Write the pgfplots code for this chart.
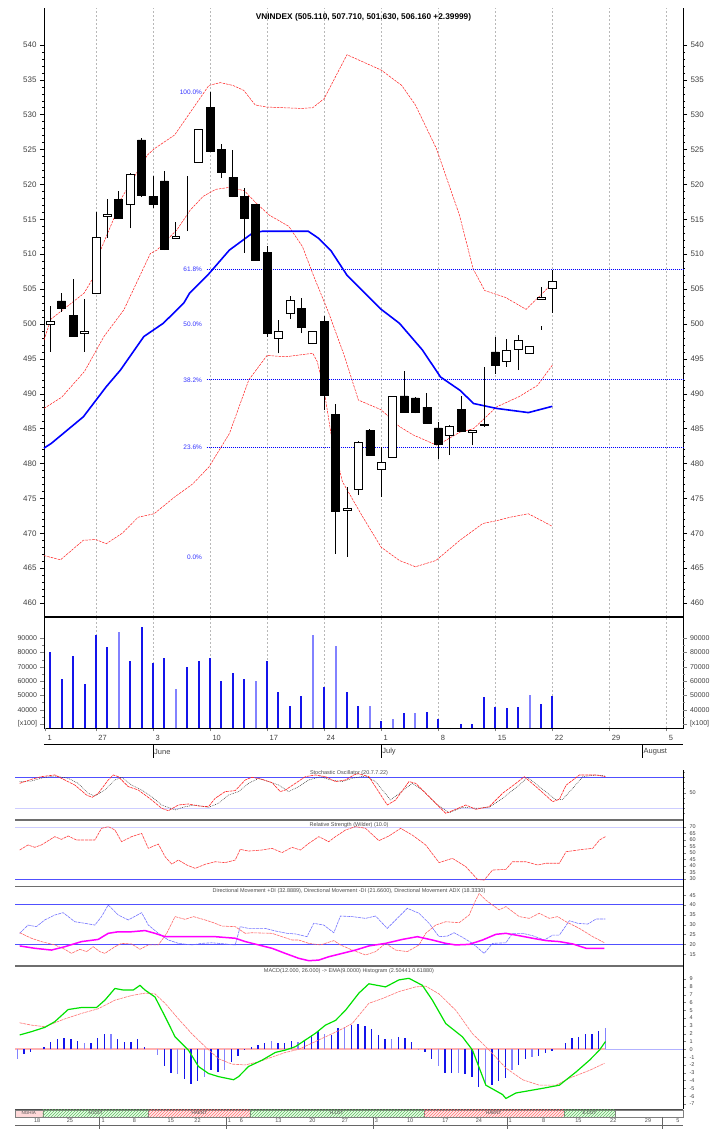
\documentclass[border=0pt]{standalone}
\usepackage{fontspec}
\setmainfont{Liberation Sans}
\usepackage{pgfplots}
\usepackage{pgfplotstable}
\pgfplotsset{compat=1.18}
\usetikzlibrary{patterns}

\definecolor{vblue}{RGB}{20,20,235}
\definecolor{vlight}{RGB}{130,130,255}
\definecolor{refblue}{RGB}{80,80,255}
\definecolor{reflight}{RGB}{205,205,255}
\definecolor{bandred}{RGB}{255,30,30}
\definecolor{mgreen}{RGB}{0,225,0}
\definecolor{adxmag}{RGB}{255,0,255}
\definecolor{sepgray}{RGB}{110,110,110}

\pgfplotstableread{
x O H L C
-4 500.0 502.6 496.0 500.4
-3 503.3 504.5 501.7 502.3
-2 501.2 506.5 498.2 498.3
-1 498.7 503.6 496.0 498.9
0 504.4 516.1 504.3 512.4
1 515.4 517.9 512.3 515.7
2 517.9 519.1 515.1 515.2
3 517.1 521.6 513.7 521.4
4 526.4 526.6 518.2 518.4
5 518.3 521.2 516.6 517.1
6 520.5 521.9 510.6 510.7
7 512.3 514.6 512.2 512.6
8 513.5 521.2 513.3 513.5
9 523.2 528.0 523.1 527.9
10 531.0 533.2 524.6 524.7
11 525.0 525.8 520.9 521.8
12 521.0 525.0 518.2 518.3
13 518.3 519.5 510.2 515.1
14 517.1 517.2 509.1 509.2
15 510.3 511.2 498.2 498.7
16 498.0 500.6 495.8 499.0
17 501.6 504.0 500.7 503.4
18 502.2 503.7 498.7 499.6
19 497.2 499.0 497.1 498.9
20 500.4 501.1 487.7 489.8
21 487.0 488.6 467.1 473.2
22 473.3 476.6 466.6 473.6
23 476.3 483.2 475.5 483.1
24 484.8 484.9 481.1 481.2
25 479.1 482.3 475.2 480.2
26 480.9 489.7 480.8 489.6
27 489.7 493.2 487.3 487.4
28 489.4 489.5 487.2 487.3
29 488.1 490.1 485.7 485.8
30 485.1 486.0 480.7 482.8
31 484.1 485.5 481.2 485.4
32 487.8 489.7 484.5 484.6
33 484.5 484.8 482.6 484.7
34 485.5 493.8 485.3 485.6
35 496.0 498.2 492.9 494.1
36 494.7 497.8 493.9 496.2
37 496.4 498.4 493.4 497.6
38 495.8 496.9 495.7 496.8
39 503.6 505.3 503.5 503.8
39 499.6 499.7 499.2 499.6
40 505.11 507.71 501.63 506.16
}\candles

\begin{document}
\begin{tikzpicture}
\pgfplotsset{
 panel/.style={scale only axis, anchor=south west,
   /pgf/number format/assume math mode=true,
   /pgf/number format/1000 sep={},
   scaled y ticks=false,
   tick label style={text=black!75}},
}
% ================= MAIN PRICE PANEL =================
\begin{axis}[panel, at={(44pt,512pt)}, width=639pt, height=609pt,
  xmin=-4.55, xmax=51.45, ymin=458, ymax=545.3,
  separate axis lines,
  every outer x axis line/.append style={draw=none},
  every outer y axis line/.append style={line width=0.7pt},
  xtick={0,5,...,50}, xticklabels={}, xtick style={draw=none},
  xmajorgrids, major x grid style={dash pattern=on 2pt off 2pt, black!28, line width=0.4pt},
  ytick={460,465,...,540}, minor y tick num=4,
  tick align=outside, major tick length=4pt, minor tick length=2pt,
  y tick style={black, line width=0.5pt},
  yticklabel style={font=\fontsize{8}{8}\selectfont},
  clip=false]
% Bollinger bands
\addplot[bandred, line width=0.5pt, dash pattern=on 2.5pt off 1pt] coordinates {
(-4.55,497.7) (-3.94,500.7) (-1.05,504.4) (-0.17,506.8) (0.08,509.3) (1.69,515.6) (2.15,517.8) (4.5,524.2) (5.1,525.1) (6.9,527.1) (8.5,530.9) (9.9,534.2) (10.9,534.6) (12.0,534.2) (12.95,533.5) (13.96,531.4) (14.96,531.1) (18.0,530.9) (19.0,531.0) (20.0,532.3) (22.0,538.6) (25.0,536.4) (26.8,534.2) (28.0,531.4) (29.85,525.1) (31.86,515.6) (33.06,507.9) (34.07,504.8) (35.9,503.8) (37.7,502.1) (40,505.8)};
\addplot[bandred, line width=0.5pt, dash pattern=on 2.5pt off 1pt] coordinates {
(-4.55,487.9) (-3.0,489.5) (-1.0,493.2) (0.7,498.2) (2.44,502.0) (4.77,510.1) (5.35,510.6) (7.1,513.5) (8.25,516.3) (9.4,518.3) (10.5,519.3) (11.75,519.6) (13,519.1) (14,517.4) (15.2,515.6) (16.9,514.0) (18.1,511.1) (19.1,506.8) (20.4,501.6) (21.8,495.3) (23,489.1) (25,487.7) (26.6,485.3) (27.8,484.1) (29.9,482.6) (31.9,484.5) (33.1,485.0) (35.1,488.1) (37.1,489.6) (38.7,491.2) (40,494.1)};
\addplot[bandred, line width=0.5pt, dash pattern=on 2.5pt off 1pt] coordinates {
(-4.55,466.8) (-3.1,466.2) (-1.1,469.0) (0,469.1) (0.9,468.5) (2.3,470.0) (3.7,472.3) (5.1,472.8) (6.9,475.2) (8.5,477.1) (9.9,479.5) (11.7,484.3) (13.4,492.0) (15,495.5) (16.6,495.3) (19,495.8) (19.4,494.6) (20,490.5) (20.6,484.3) (21.6,477.4) (23.4,472.3) (25,468.0) (26.6,466.1) (28,465.2) (29.8,466.1) (31.9,469.0) (33.9,471.4) (35.1,471.8) (36.3,472.3) (37.9,472.8) (40,471.0)};
% moving average
\addplot[blue, line width=1.6pt] coordinates {
(-4.55,482.2) (-3.9,482.9) (-1.1,486.7) (0.9,491.0) (2.15,493.4) (4.2,498.2) (5.9,500.1) (7.7,503.0) (8.2,504.4) (9.9,507.2) (11.7,510.6) (13.7,513.0) (14.6,513.3) (18.6,513.3) (19.5,512.3) (20.6,510.5) (22.0,507.0) (25,502.1) (26.6,500.1) (28.6,496.3) (30.2,492.4) (31.9,490.5) (33.1,488.6) (35.1,487.9) (37.9,487.3) (40,488.2)};
% Fibonacci lines
\addplot[blue, line width=0.8pt, dash pattern=on 1pt off 1pt] coordinates {(9.7,507.8) (51.45,507.8)};
\addplot[blue, line width=0.8pt, dash pattern=on 1pt off 1pt] coordinates {(9.7,492.0) (51.45,492.0)};
\addplot[blue, line width=0.8pt, dash pattern=on 1pt off 1pt] coordinates {(9.7,482.3) (51.45,482.3)};
% wicks
\addplot[mark=none, draw=none, error bars/.cd, y dir=plus, y explicit, error mark=none,
  error bar style={draw=black, solid, line width=0.7pt}]
  table[x=x, y=L, y error plus expr=\thisrow{H}-\thisrow{L}] {\candles};
\begin{scope}[font=\fontsize{6.5}{7}\selectfont, text=blue!80]
\node[anchor=east] at (axis cs:9.6,533.2) {100.0\%};
\node[anchor=east] at (axis cs:9.6,507.8) {61.8\%};
\node[anchor=east] at (axis cs:9.6,499.9) {50.0\%};
\node[anchor=east] at (axis cs:9.6,492.0) {38.2\%};
\node[anchor=east] at (axis cs:9.6,482.3) {23.6\%};
\node[anchor=east] at (axis cs:9.6,466.6) {0.0\%};
\end{scope}
\node[anchor=north, font=\bfseries\fontsize{8.3}{10}\selectfont] at (rel axis cs:0.5,0.997) {VNINDEX (505.110, 507.710, 501.630, 506.160 +2.39999)};
\draw[line width=1.4pt] (rel axis cs:0,0) -- (rel axis cs:1,0);
\end{axis}
% candle bodies + right labels
\begin{axis}[panel, at={(44pt,512pt)}, width=639pt, height=609pt,
  xmin=-4.55, xmax=51.45, ymin=458, ymax=545.3,
  axis line style={draw=none}, xtick=\empty,
  ytick={460,465,...,540}, yticklabel pos=right, major tick length=0pt, minor tick length=0pt,
  yticklabel style={font=\fontsize{8}{8}\selectfont, xshift=4pt},
  ybar stacked, bar width=0.7, clip=false]
\addplot[draw=none, fill=none] table[x=x, y expr={min(\thisrow{O},\thisrow{C})}] {\candles};
\addplot[fill=black, draw=black, line width=0.5pt] table[x=x, y expr={max(\thisrow{O}-\thisrow{C},0)}] {\candles};
\addplot[fill=white, draw=black, line width=0.6pt] table[x=x, y expr={max(\thisrow{C}-\thisrow{O},0)}] {\candles};
\end{axis}
% ================= VOLUME =================
\begin{axis}[panel, at={(44pt,401pt)}, width=639pt, height=111pt,
  xmin=-4.55, xmax=51.45, ymin=27200, ymax=104900,
  axis line style={line width=0.7pt},
  xtick={0,5,...,50}, xticklabels={27,3,10,17,24,1,8,15,22,29,5},
  extra x ticks={-4.45}, extra x tick labels={1}, extra x tick style={grid=none},
  xtick pos=bottom, minor x tick num=4,
  xticklabel style={anchor=north west, xshift=-1pt, font=\fontsize{7.5}{8}\selectfont},
  xmajorgrids, major x grid style={dash pattern=on 2pt off 2pt, black!28, line width=0.4pt},
  ytick={30000,40000,...,90000}, yticklabels={{[x100]},40000,50000,60000,70000,80000,90000},
  ytick pos=left, minor y tick num=1,
  tick align=outside, major tick length=3.5pt, minor tick length=1.5pt,
  yticklabel style={font=\fontsize{7}{7}\selectfont},
  clip mode=individual]
\addplot[ycomb, vblue, line width=2pt] coordinates {
(-4,80200) (-3,61500) (-2,77600) (-1,58000) (0,92300) (1,84200) (3,74300) (4,97700) (5,72900) (6,76000) (8,69700) (9,74300) (10,76000) (11,60100) (12,65900) (13,61500) (15,74300) (16,52600) (17,42800) (18,49600) (20,55700) (22,52600) (23,42800) (25,32100) (27,37400) (29,38600) (30,33200) (32,29700) (33,29700) (34,49100) (35,42100) (36,41400) (37,42100) (39,43700) (40,49600)};
\draw[line width=1pt] (axis cs:-4.55,15790) -- (axis cs:51.45,15790);
\draw[line width=0.6pt] (axis cs:5,15300) -- (axis cs:5,6200);
\draw[line width=0.6pt] (axis cs:25,15300) -- (axis cs:25,6200);
\draw[line width=0.6pt] (axis cs:47.9,15300) -- (axis cs:47.9,6200);
\node[anchor=west, font=\fontsize{7.5}{8}\selectfont, text=black!75, inner xsep=1pt] at (axis cs:5,10400) {June};
\node[anchor=west, font=\fontsize{7.5}{8}\selectfont, text=black!75, inner xsep=1pt] at (axis cs:25,10400) {July};
\node[anchor=west, font=\fontsize{7.5}{8}\selectfont, text=black!75, inner xsep=1pt] at (axis cs:47.9,10400) {August};
\end{axis}
\begin{axis}[panel, at={(44pt,401pt)}, width=639pt, height=111pt,
  xmin=-4.55, xmax=51.45, ymin=27200, ymax=104900,
  axis line style={draw=none}, xtick=\empty,
  ytick={30000,40000,...,90000}, yticklabels={{[x100]},40000,50000,60000,70000,80000,90000},
  yticklabel pos=right, minor y tick num=1,
  tick align=outside, major tick length=3.5pt, minor tick length=1.5pt,
  yticklabel style={font=\fontsize{7}{7}\selectfont},
  clip mode=individual]
\addplot[ycomb, vlight, line width=2pt] coordinates {
(2,94200) (7,54500) (14,60100) (19,92300) (21,84600) (24,42800) (26,33200) (28,37400) (38,50300)};
\end{axis}
% ================= STOCHASTIC =================
\begin{axis}[panel, at={(15pt,309pt)}, width=668pt, height=50pt,
  xmin=-48.35, xmax=51.6, ymin=-2.6, ymax=94.1,
  axis x line=none, axis y line=right, axis line style={-, line width=0.6pt},
  ytick={50}, minor ytick={10,20,30,40,60,70,80,90},
  tick align=outside, major tick length=3pt, minor tick length=1.5pt,
  yticklabel style={font=\fontsize{5.5}{6}\selectfont},
  clip mode=individual]
\addplot[refblue, line width=1pt] coordinates {(-48.35,80) (51.6,80)};
\addplot[reflight, line width=0.8pt] coordinates {(-48.35,20) (51.6,20)};
\addplot[black!80, line width=0.5pt, dash pattern=on 0.8pt off 1pt] coordinates {
(-47.65,71.5) (-45.9,72.8) (-43.9,80) (-42.4,82.5) (-40.4,78) (-38.9,68.3) (-37.4,49) (-36.4,43.8) (-34.9,55.4) (-33.4,74.8) (-32.4,80) (-30.9,65) (-29.4,55.4) (-27.9,42.5) (-26.4,26.4) (-24.4,16.8) (-22.9,23.2) (-21.4,26.4) (-19.4,21.9) (-17.9,29.7) (-16.4,45.7) (-14.9,52.3) (-13.4,68.3) (-11.9,78) (-10.4,71.7) (-8.9,65) (-7.4,52.3) (-5.9,61.9) (-4.4,74.8) (-2.65,81.2) (-1.15,74.8) (0.6,71.7) (2.1,78) (4.1,82.5) (5.6,71.7) (7.85,36.1) (11.1,68.3) (12.6,55.4) (14.6,29.7) (16.6,11.5) (18.6,21.9) (20.6,20) (22.6,21.9) (24.6,39.4) (27.1,65) (28.35,80) (30.1,61.9) (32.6,36.1) (33.6,37.4) (35.1,58.6) (36.6,81.2) (38.6,84.5) (40,82.5)};
\addplot[red!85, line width=0.6pt, dash pattern=on 3pt off 0.8pt] coordinates {
(-47.65,68.3) (-45.9,76) (-44.4,81.2) (-42.4,84.5) (-40.9,74.8) (-39.4,65) (-37.65,45.7) (-36.8,41.2) (-35.9,49) (-34.4,74.8) (-33.65,84.5) (-32.9,81.2) (-31.4,61.9) (-29.9,55.4) (-27.9,36.1) (-26.4,20) (-25.4,15.4) (-23.9,26.4) (-22.4,28.4) (-20.9,24.5) (-19.4,23.2) (-18.4,39.4) (-16.9,52.3) (-15.4,54.2) (-13.9,74.8) (-12.9,80) (-11.4,76) (-9.9,69.7) (-8.65,52.3) (-7.9,55.4) (-6.4,68.3) (-4.9,81.2) (-3.4,84.5) (-1.9,81.2) (-0.4,71.7) (1.1,74.8) (2.35,84.5) (3.0,87) (4.6,81.2) (7.35,26.4) (8.6,36.1) (10.6,71.7) (11.6,68.3) (14.1,36.1) (16.1,10.2) (17.6,18.1) (19.1,26.4) (20.6,18.1) (22.6,23.2) (24.6,49) (26.6,68.3) (27.85,81.2) (29.6,61.9) (32.1,32.9) (33.1,37.4) (34.1,64.6) (36.1,84.5) (38.6,84.5) (40,81.2)};
\node[font=\fontsize{5.5}{6}\selectfont, text=black!70] at (rel axis cs:0.5,0.93) {Stochastic Oscillator (20.7.7.22)};
\draw[sepgray, line width=1.6pt] (rel axis cs:0,0) -- (rel axis cs:1,0);
\end{axis}
% ================= RSI =================
\begin{axis}[panel, at={(15pt,242.3pt)}, width=668pt, height=66.7pt,
  xmin=-48.35, xmax=51.6, ymin=24.1, ymax=75.4,
  axis x line=none, axis y line=right, axis line style={-, line width=0.6pt},
  ytick={30,35,...,70},
  tick align=outside, major tick length=3pt,
  yticklabel style={font=\fontsize{5.5}{6}\selectfont},
  clip mode=individual]
\addplot[reflight, line width=0.8pt] coordinates {(-48.35,70) (51.6,70)};
\addplot[refblue, line width=1pt] coordinates {(-48.35,30) (51.6,30)};
\addplot[red!75, line width=0.6pt, dash pattern=on 3pt off 0.8pt] coordinates {
(-47.65,52.3) (-46.4,56.2) (-45.4,54.4) (-44.4,56.2) (-42.4,62.6) (-41.4,60.5) (-40.4,63.1) (-39.15,60) (-36.4,60) (-35.4,69) (-34.4,70.3) (-33.4,67.7) (-32.4,58.7) (-30.9,62.6) (-29.4,65.1) (-28.4,53.6) (-26.9,56.9) (-25.9,47.2) (-24.9,41.5) (-23.9,44.6) (-22.65,40.8) (-21.4,38.2) (-19.9,41.3) (-18.4,43.3) (-16.9,42.6) (-15.4,44.6) (-14.65,52.8) (-13.4,51.5) (-11.4,52.3) (-9.9,53.6) (-8.4,50.3) (-6.9,54.4) (-5.65,52.3) (-4.4,57.4) (-2.9,62.6) (-1.4,58.7) (-0.4,62.6) (1.1,67.7) (2.6,70.3) (4.1,69) (6.1,59.5) (7.6,63.1) (9.35,69) (11.1,63.8) (13.1,56.2) (15.1,42.6) (17.1,45.9) (19.1,39.5) (20.85,29.7) (21.85,29.2) (23.1,36.9) (25.1,37.4) (26.1,43.3) (28.1,43.3) (29.85,40.8) (31.1,42.1) (33.1,42.1) (34.1,51) (36.6,52.8) (38.1,53.6) (39.1,60) (40,62.6)};
\node[font=\fontsize{5.5}{6}\selectfont, text=black!70] at (rel axis cs:0.5,0.925) {Relative Strength (Wilder) (10.0)};
\draw[sepgray, line width=1.6pt] (rel axis cs:0,0) -- (rel axis cs:1,0);
\end{axis}
% ================= DMI =================
\begin{axis}[panel, at={(15pt,163pt)}, width=668pt, height=79.3pt,
  xmin=-48.35, xmax=51.6, ymin=9.0, ymax=49.3,
  axis x line=none, axis y line=right, axis line style={-, line width=0.6pt},
  ytick={15,20,...,45},
  tick align=outside, major tick length=3pt,
  yticklabel style={font=\fontsize{5.5}{6}\selectfont},
  clip mode=individual]
\addplot[refblue, line width=1pt] coordinates {(-48.35,40) (51.6,40)};
\addplot[refblue, line width=1pt] coordinates {(-48.35,20) (51.6,20)};
\addplot[blue!55, line width=0.6pt, dash pattern=on 3pt off 0.8pt] coordinates {
(-47.65,25.6) (-46.4,29.8) (-45.15,29) (-43.9,32.4) (-42.4,34.9) (-41.15,36.1) (-39.4,31.5) (-37.9,30.7) (-36.4,29.8) (-35.4,34.1) (-34.4,40) (-32.9,34.9) (-31.4,32.4) (-29.4,36.1) (-28.4,29.8) (-26.9,25.6) (-25.4,22.2) (-23.9,20.5) (-21.9,19.7) (-20.4,20.5) (-18.9,20.8) (-16.9,20.2) (-15.4,19.7) (-14.65,29) (-13.4,28.1) (-10.9,28.1) (-9.4,26.8) (-7.65,25.6) (-6.4,25.3) (-4.65,23.9) (-3.65,30.7) (-2.15,29.8) (-0.65,25.9) (0.35,34.4) (2.1,34.1) (4.1,33.2) (5.6,34.4) (7.35,28.1) (9.1,34.1) (10.35,38.3) (12.1,35.8) (13.6,30.7) (15.1,23.9) (16.35,24.2) (17.35,25.9) (18.6,23.6) (20.1,20.5) (21.85,15.4) (23.1,20.5) (25.1,20.8) (26.1,25.6) (27.6,25.6) (29.1,24.4) (30.85,22.2) (32.1,24.7) (33.1,24.7) (34.6,32) (35.85,30.7) (37.35,30.3) (38.6,32.9) (40,32.9)};
\addplot[red!60, line width=0.6pt, dash pattern=on 3pt off 0.8pt] coordinates {
(-47.65,25.9) (-45.9,23.1) (-44.4,21.4) (-42.4,19.7) (-40.9,17.5) (-39.9,15.4) (-38.65,17.5) (-37.65,16.3) (-36.65,18.8) (-35.65,16.3) (-34.9,15.4) (-33.4,18.8) (-32.4,20.5) (-30.9,20.2) (-29.65,17.5) (-28.4,19.7) (-26.9,19.7) (-25.65,25.6) (-24.4,34.1) (-22.9,32.7) (-21.65,34.1) (-19.9,32.4) (-18.65,31) (-17.4,29.3) (-15.4,29) (-13.9,25.6) (-12.9,25.9) (-9.9,25.6) (-8.4,23.9) (-6.9,22.2) (-5.9,22.2) (-4.4,20.5) (-2.65,19.7) (-0.65,21.9) (0.35,19.7) (2.1,17.1) (4.1,14.6) (5.6,16.3) (7.1,20.5) (8.6,17.1) (10.35,16.3) (12.1,19.7) (13.1,25.6) (14.6,29.8) (16.1,31.5) (18.1,31) (19.6,34.9) (20.35,40.8) (21.1,45.9) (22.1,42.5) (24.1,37.5) (25.1,39.2) (27.1,34.1) (28.6,33.2) (30.1,35.8) (31.6,33.2) (32.85,34.1) (34.1,31.5) (36.1,28.1) (38.1,23.9) (39.85,20.8)};
\addplot[adxmag, line width=1.5pt] coordinates {
(-47.65,19.2) (-45.4,18) (-42.9,17.1) (-40.9,18.8) (-38.4,21.4) (-35.9,22.5) (-34.4,25.6) (-32.9,26.4) (-30.9,26.4) (-28.9,27) (-27.4,25.6) (-25.9,23.9) (-23.9,23.9) (-18.4,23.9) (-15.4,23.1) (-13.9,21.4) (-11.9,19.7) (-9.9,18) (-7.9,15.4) (-5.9,12.9) (-4.4,11.7) (-2.9,12) (-1.4,13.7) (0.6,15.4) (2.6,17.1) (4.6,19.2) (7.1,20.5) (9.6,22.5) (11.85,23.9) (14.1,22.2) (16.1,20.5) (17.6,19.7) (19.6,20) (21.6,22.2) (23.6,25.1) (25.1,25.6) (27.1,24.4) (29.1,23.1) (31.1,21.9) (33.1,21.4) (35.1,20.2) (37.1,18) (39.85,18)};
\node[font=\fontsize{5.5}{6}\selectfont, text=black!70] at (rel axis cs:0.5,0.94) {Directional Movement +DI (32.8889), Directional Movement -DI (21.6600), Directional Movement ADX (18.3330)};
\draw[sepgray, line width=1.6pt] (rel axis cs:0,0) -- (rel axis cs:1,0);
\end{axis}
% ================= MACD =================
\begin{axis}[panel, at={(15pt,19.7pt)}, width=668pt, height=143.3pt,
  xmin=-48.35, xmax=51.6, ymin=-7.69, ymax=10.68,
  axis x line=none, axis y line=right, axis line style={-, line width=0.6pt},
  ytick={-7,-6,...,9},
  tick align=outside, major tick length=3pt,
  yticklabel style={font=\fontsize{5.5}{6}\selectfont},
  clip mode=individual]
\addplot[red!30, line width=2pt] coordinates {(-48.35,0) (40,0)};
\addplot[blue!30, line width=1.5pt] coordinates {(40,0) (51.6,0)};
\addplot[ycomb, vblue, line width=1.4pt] coordinates {
(-47,-0.6) (-46,-0.4) (-44,0.34) (-43,1.0) (-42,1.3) (-41,1.4) (-40,1.3) (-39,1.1) (-37,0.8) (-36,1.4) (-35,2.0) (-33,1.3) (-32,1.0) (-31,1.0) (-30,1.3) (-29,0.26) (-26,-2.1) (-25,-3.1) (-23,-3.8) (-22,-4.4) (-21,-4.1) (-19,-2.6) (-18,-2.9) (-16,-1.6) (-15,-0.85) (-14,-0.1) (-13,0.26) (-12,0.56) (-11,0.8) (-9,0.8) (-8,0.8) (-7,1.1) (-5,1.2) (-4,1.8) (-3,2.3) (-1,1.8) (0,2.7) (2,3.1) (3,3.2) (4,3.0) (5,2.6) (6,1.8) (7,1.3) (9,1.6) (10,1.4) (11,1.0) (13,-0.4) (14,-1.2) (16,-3.1) (17,-3.1) (19,-3.2) (20,-3.5) (21,-4.8) (23,-4.6) (24,-4.1) (25,-3.7) (27,-2.0) (28,-1.3) (30,-0.85) (31,-0.5) (32,-0.17) (34,0.85) (35,1.4) (36,1.6) (37,2.0) (38,2.0) (39,2.3)};
\addplot[ycomb, vlight, line width=1.2pt] coordinates {
(-48,-1.3) (-38,0.8) (-34,2.0) (-27,-0.7) (-24,-3.2) (-20,-3.5) (-17,-2.6) (-10,1.1) (-6,0.9) (-2,2.0) (1,2.9) (8,1.3) (12,0.1) (15,-2.2) (18,-3.1) (22,-4.6) (26,-2.6) (29,-1.0) (40,2.7)};
\addplot[red!55, line width=0.6pt, dash pattern=on 3pt off 0.8pt] coordinates {
(-47.65,3.4) (-45.9,3.1) (-43.9,2.9) (-40.9,3.9) (-38.4,4.6) (-35.9,5.2) (-33.4,6.3) (-30.9,6.9) (-28.9,7.2) (-27.4,7.1) (-25.9,5.9) (-23.9,3.9) (-21.9,2.0) (-19.9,0.34) (-17.9,-1.2) (-15.9,-1.9) (-13.9,-2.0) (-11.9,-1.6) (-9.9,-1.0) (-7.9,-0.4) (-5.9,0.0) (-3.9,0.8) (-1.9,1.6) (0.1,2.4) (2.1,3.3) (4.6,5.9) (6.6,6.5) (9.1,7.4) (11.6,8.0) (13.1,8.1) (15.1,7.1) (17.6,5.0) (20.1,2.0) (22.6,-0.1) (25.1,-2.4) (27.6,-3.9) (30.1,-4.6) (32.6,-4.6) (34.6,-3.7) (37.6,-2.7) (39.85,-1.8)};
\addplot[mgreen, line width=1.2pt] coordinates {
(-47.65,1.84) (-45.9,2.26) (-43.9,2.81) (-42.4,3.54) (-40.4,5.1) (-38.4,5.36) (-36.15,5.36) (-34.9,6.3) (-33.4,7.8) (-32.15,7.6) (-30.65,7.6) (-29.65,8.2) (-28.9,7.6) (-27.4,6.7) (-25.9,4.2) (-24.4,1.6) (-22.4,-0.1) (-20.9,-2.2) (-19.4,-3.1) (-17.9,-3.5) (-15.65,-3.9) (-14.9,-3.5) (-13.4,-2.2) (-11.4,-1.4) (-9.4,-0.4) (-7.9,-0.1) (-6.4,0.34) (-4.9,1.2) (-3.4,2.05) (-1.9,3.1) (-0.4,3.7) (1.1,5.0) (3.1,7.2) (4.6,8.4) (7.1,8.0) (9.1,8.9) (10.6,9.1) (12.6,8.2) (14.1,6.3) (16.1,3.3) (18.6,1.6) (20.1,-0.1) (22.1,-4.6) (24.6,-5.8) (25.1,-6.3) (26.6,-5.6) (28.6,-5.3) (30.6,-5.0) (33.1,-4.6) (35.6,-2.9) (37.6,-1.4) (39.1,-0.1) (40,1.0)};
\node[font=\fontsize{5.5}{6}\selectfont, text=black!70] at (rel axis cs:0.5,0.965) {MACD(12.000, 26.000) -> EMA(9.0000) Histogram (2.50441 0.61880)};
\draw[black!70, line width=0.6pt] (rel axis cs:0,0) -- (rel axis cs:1,0);
\end{axis}
% ================= BOTTOM STRIP =================
\begin{axis}[panel, at={(15pt,0pt)}, width=668pt, height=19.7pt,
  xmin=-48.35, xmax=51.6, ymin=0, ymax=1, hide axis, clip=false]
\draw[draw=gray, fill=red!15] (axis cs:-48.35,0.61) rectangle (axis cs:-44.2,0.965);
\draw[draw=gray, fill=green!10, postaction={pattern=north east lines, pattern color=green!55!black!60}] (axis cs:-44.2,0.61) rectangle (axis cs:-28.35,0.965);
\draw[draw=gray, fill=red!8, postaction={pattern=north east lines, pattern color=red!55}] (axis cs:-28.35,0.61) rectangle (axis cs:-13.2,0.965);
\draw[draw=gray, fill=green!10, postaction={pattern=north east lines, pattern color=green!55!black!60}] (axis cs:-13.2,0.61) rectangle (axis cs:12.85,0.965);
\draw[draw=gray, fill=red!8, postaction={pattern=north east lines, pattern color=red!55}] (axis cs:12.85,0.61) rectangle (axis cs:33.8,0.965);
\draw[draw=gray, fill=green!10, postaction={pattern=north east lines, pattern color=green!55!black!60}] (axis cs:33.8,0.61) rectangle (axis cs:41.4,0.965);
\draw[draw=gray] (axis cs:41.4,0.61) rectangle (axis cs:51.6,0.965);
\begin{scope}[font=\fontsize{4.5}{5}\selectfont, text=black!70]
\node at (axis cs:-46.3,0.79) {NGHIA};
\node at (axis cs:-36.3,0.79) {H.CGT};
\node at (axis cs:-20.8,0.79) {HAENT};
\node at (axis cs:-0.2,0.79) {H.LGT};
\node at (axis cs:23.3,0.79) {HAENT};
\node at (axis cs:37.6,0.79) {E.CGT};
\end{scope}
\draw[black!60, line width=0.5pt] (axis cs:-48.35,0.2) -- (axis cs:51.6,0.2);
\draw[black!60, line width=0.6pt] (axis cs:-35.7,0.61) -- (axis cs:-35.7,0);
\draw[black!60, line width=0.6pt] (axis cs:-16.8,0.61) -- (axis cs:-16.8,0);
\draw[black!60, line width=0.6pt] (axis cs:5.2,0.61) -- (axis cs:5.2,0);
\draw[black!60, line width=0.6pt] (axis cs:25.3,0.61) -- (axis cs:25.3,0);
\draw[black!60, line width=0.6pt] (axis cs:48.5,0.61) -- (axis cs:48.5,0);
\begin{scope}[font=\fontsize{5.5}{6}\selectfont, text=black!70, anchor=west, inner xsep=0.5pt]
\node at (axis cs:-45.6,0.41) {18};
\node at (axis cs:-40.7,0.41) {25};
\node at (axis cs:-35.5,0.41) {1};
\node at (axis cs:-30.8,0.41) {8};
\node at (axis cs:-25.6,0.41) {15};
\node at (axis cs:-21.6,0.41) {22};
\node at (axis cs:-16.6,0.41) {1};
\node at (axis cs:-14.8,0.41) {6};
\node at (axis cs:-9.5,0.41) {13};
\node at (axis cs:-4.4,0.41) {20};
\node at (axis cs:0.45,0.41) {27};
\node at (axis cs:5.4,0.41) {3};
\node at (axis cs:10.2,0.41) {10};
\node at (axis cs:15.5,0.41) {17};
\node at (axis cs:20.5,0.41) {24};
\node at (axis cs:25.4,0.41) {1};
\node at (axis cs:30.4,0.41) {8};
\node at (axis cs:35.4,0.41) {15};
\node at (axis cs:40.6,0.41) {22};
\node at (axis cs:45.8,0.41) {29};
\node at (axis cs:50.5,0.41) {5};
\end{scope}
\end{axis}
\pgfresetboundingbox
\path[use as bounding box] (0,0) rectangle (713pt,1129pt);
\end{tikzpicture}
\end{document}
